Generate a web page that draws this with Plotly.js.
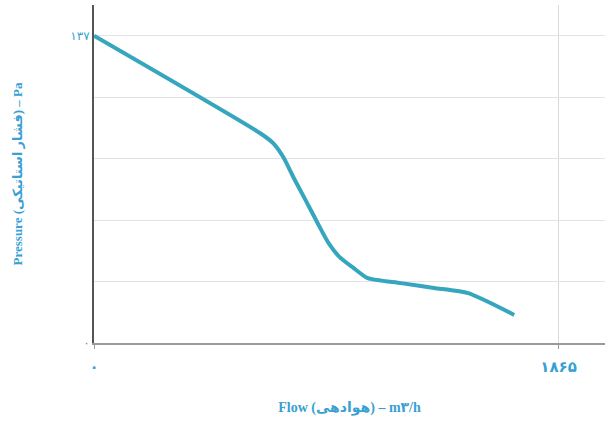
<!DOCTYPE html>
<html>
<head>
<meta charset="utf-8">
<script src="https://cdn.plot.ly/plotly-3.0.1.min.js"></script>
<style>html,body{margin:0;padding:0;background:#fff;}#chart{width:607px;height:434px;}</style>
</head>
<body>
<div id="chart"></div>
<script>
var flow = [0, 669, 721, 761, 801, 850, 898, 942, 985, 1040, 1099, 1232, 1365, 1502, 1687];
var pressure = [137, 93.4, 88.9, 82.7, 73.8, 63.6, 53.4, 44.5, 38.4, 33.6, 28.9, 26.7, 24.5, 22.2, 12.5];
var xTickVals = [0, 1865];
var xTickText = ['۰', '۱۸۶۵'];
var yTickVals = [0, 27.4, 54.8, 82.2, 109.6, 137];
var yTickText = ['۰', '', '', '', '', '۱۳۷'];
var xTitle = 'Flow (هوادهی) – m۳/h';
var yTitle = 'Pressure (فشار استاتیکی) – Pa';

var labelColor = '#3a9fd3';
var trace = {
  x: flow, y: pressure, type: 'scatter', mode: 'lines',
  line: {color: '#35a6bd', width: 4, shape: 'spline', smoothing: 0.6},
  hoverinfo: 'none'
};
var layout = {
  width: 607, height: 434,
  margin: {l: 94, r: 2, t: 5, b: 91},
  paper_bgcolor: '#fff', plot_bgcolor: '#fff',
  showlegend: false,
  font: {family: 'Liberation Serif, DejaVu Sans, serif', color: labelColor},
  xaxis: {
    range: [0, 2051.5], tickmode: 'array', tickvals: xTickVals, ticktext: xTickText,
    showgrid: true, gridcolor: '#d9d9d9', gridwidth: 1,
    showline: true, linecolor: '#9a9a9a', linewidth: 2,
    zeroline: false, ticks: 'outside', ticklen: 4, tickcolor: '#9a9a9a',
    ticklabelstandoff: 5,
    tickfont: {family: 'DejaVu Sans, sans-serif', size: 15, color: labelColor, weight: 'bold'},
    title: {text: xTitle, standoff: 27, font: {family: 'Liberation Serif, DejaVu Sans, serif', size: 14, color: labelColor, weight: 'bold'}}
  },
  yaxis: {
    range: [0, 150.7], tickmode: 'array', tickvals: yTickVals, ticktext: yTickText,
    showgrid: true, gridcolor: '#e3e3e3', gridwidth: 1,
    showline: true, linecolor: '#555', linewidth: 2,
    zeroline: false, ticks: '',
    tickfont: {family: 'DejaVu Sans, sans-serif', size: 12, color: labelColor},
    title: {text: yTitle, standoff: 45, font: {family: 'Liberation Serif, DejaVu Sans, serif', size: 13, color: labelColor, weight: 'bold'}}
  }
};
Plotly.newPlot('chart', [trace], layout, {displayModeBar: false, staticPlot: true});
</script>
</body>
</html>
